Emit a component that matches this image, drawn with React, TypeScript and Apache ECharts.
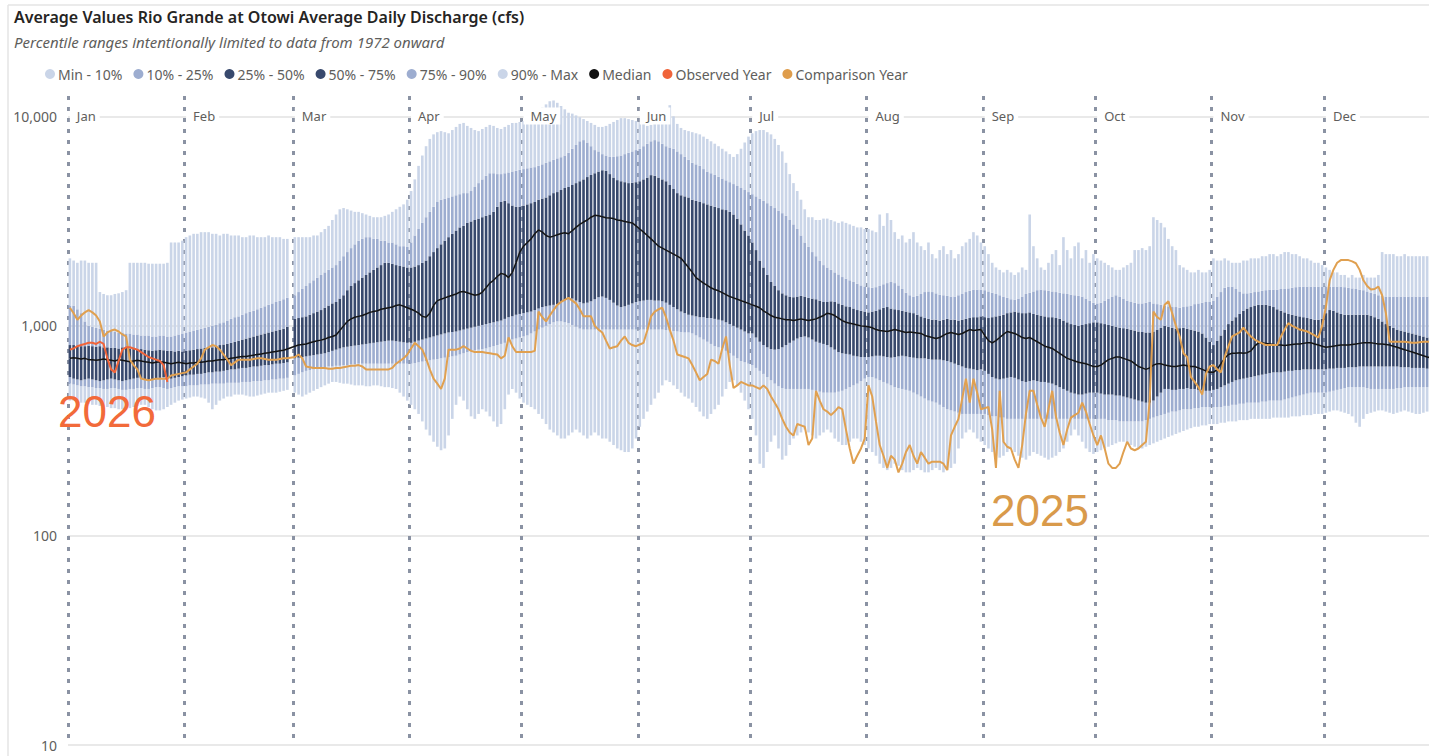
import React, { useEffect, useRef } from 'react';
import * as echarts from 'echarts';

// ---------- categories ----------
const MONTHS = ['Jan', 'Feb', 'Mar', 'Apr', 'May', 'Jun', 'Jul', 'Aug', 'Sep', 'Oct', 'Nov', 'Dec'];
const MONTH_DAYS = [31, 29, 31, 30, 31, 30, 31, 31, 30, 31, 30, 31];
const Y_TICKS = [10, 100, 1000, 10000];

// ---------- daily percentile values (cfs), Jan 1 .. Dec 31 ----------
const MIN_Q = [
  440,440,435,430,430,425,420,420,415,410,410,405,405,400,400,400,405,410,415,420,420,410,400,395,395,400,410,420,430,440,445,
  450,455,460,460,455,450,430,400,420,440,450,460,460,470,470,470,465,460,460,465,470,475,480,480,480,485,490,495,null,
  480,470,460,470,480,490,500,510,520,530,540,540,535,530,530,525,520,520,520,515,515,520,520,515,510,510,505,500,480,460,440,
  420,400,380,350,320,300,280,265,255,260,300,360,420,460,440,400,370,360,380,400,390,370,350,330,340,400,470,500,480,450,
  430,420,410,400,380,360,340,320,310,300,290,290,300,310,320,310,300,290,300,310,300,290,290,280,270,260,255,250,250,260,290,
  330,360,390,420,450,480,520,550,540,520,500,480,460,450,430,410,390,370,360,380,400,420,460,500,540,550,520,480,440,400,
  360,300,220,210,250,280,300,260,230,240,270,290,300,310,320,310,300,290,300,310,320,310,290,280,270,270,280,290,290,280,270,
  260,250,240,220,210,205,210,220,215,205,200,200,205,210,205,200,200,205,210,205,200,205,210,220,260,290,310,320,310,290,280,
  270,260,250,240,235,240,250,260,250,240,235,230,240,250,245,240,235,230,235,240,250,260,280,300,320,300,280,260,250,245,
  250,255,260,265,270,275,280,280,275,270,265,260,260,265,270,275,280,285,290,295,300,305,310,315,320,325,330,330,335,335,340,
  340,340,345,345,350,350,350,355,355,355,360,360,360,360,360,360,365,365,365,365,365,370,370,370,375,375,375,380,380,380,
  385,390,395,395,390,385,380,370,345,330,360,380,385,390,395,395,390,385,380,385,390,395,390,385,380,380,385,390,390,385,380,
];

const P10 = [
  530,525,520,515,515,510,510,505,505,500,500,505,505,500,495,495,500,500,505,505,500,500,505,510,510,505,500,505,510,515,515,
  515,520,520,520,525,525,525,530,530,530,530,535,535,535,535,540,540,540,545,545,545,550,550,555,555,560,560,565,null,
  580,590,600,610,615,620,625,630,635,640,640,645,645,650,650,655,655,660,660,660,660,660,660,660,660,660,660,660,660,660,660,
  660,665,670,675,680,685,690,695,700,705,710,715,720,730,740,750,760,765,770,775,780,790,800,810,820,830,845,860,870,880,
  890,900,920,940,960,980,1000,1020,1040,1050,1050,1040,1030,1010,990,970,960,960,960,960,960,960,960,960,960,960,960,960,960,960,960,
  960,960,960,960,960,960,960,955,950,945,940,935,930,930,920,900,880,860,840,820,800,790,780,760,740,720,700,680,670,660,
  650,630,610,590,570,550,530,515,505,500,500,500,500,500,500,500,495,490,485,480,480,480,480,485,490,500,510,520,530,545,560,
  570,570,560,550,540,530,520,510,505,500,495,490,480,470,460,450,440,435,430,420,410,400,395,390,385,380,380,380,380,380,380,
  380,375,370,370,365,365,360,360,360,360,360,360,360,360,360,360,360,360,360,360,360,360,360,360,360,360,360,360,360,360,
  360,360,360,355,355,355,350,350,350,350,350,350,350,355,360,365,370,375,380,385,390,390,395,400,400,400,405,405,410,410,410,
  410,410,410,415,415,420,420,425,425,430,430,430,430,435,435,440,440,440,440,445,450,455,460,465,470,475,480,480,480,480,
  480,485,490,495,500,505,510,510,510,510,510,505,500,500,500,500,500,500,500,505,505,510,510,510,510,510,510,510,510,510,510,
];

const P25 = [
  570,560,555,550,555,560,555,550,545,550,555,560,555,550,545,550,555,560,565,560,555,550,555,560,565,570,565,560,565,570,575,
  580,585,585,590,590,595,600,600,605,605,610,615,620,620,625,630,630,635,640,640,645,650,650,655,660,660,665,670,null,
  700,705,710,715,720,725,730,735,740,750,760,770,780,790,795,800,805,810,815,820,825,830,835,840,845,850,850,845,840,835,830,
  830,840,850,860,870,880,890,900,910,920,930,935,940,950,960,970,980,990,1000,1010,1020,1030,1040,1050,1060,1080,1100,1110,1130,1140,
  1150,1160,1170,1190,1210,1230,1240,1250,1260,1270,1300,1330,1360,1350,1320,1300,1280,1290,1310,1340,1370,1380,1360,1330,1290,1250,1230,1240,1260,1280,1300,
  1310,1320,1330,1330,1320,1320,1310,1290,1260,1230,1200,1170,1150,1130,1120,1110,1100,1100,1090,1090,1080,1070,1060,1040,1020,1000,980,960,940,920,
  920,880,840,810,790,775,770,775,790,810,830,850,870,885,890,880,860,840,830,820,810,790,770,750,740,735,730,720,715,710,710,
  710,715,720,720,715,710,705,710,715,720,715,710,705,700,700,700,695,690,690,690,685,680,670,660,650,640,630,625,620,615,620,
  610,590,570,560,555,560,565,570,565,555,545,540,545,550,545,540,540,535,530,520,510,500,490,480,475,470,470,475,480,480,
  480,475,470,470,470,465,465,460,455,450,445,440,435,430,430,440,460,480,500,500,495,495,500,500,505,500,500,495,495,490,490,
  495,500,510,520,530,540,550,555,560,565,570,575,580,585,590,595,600,600,600,605,610,610,615,615,620,620,620,620,620,620,
  620,625,625,630,630,630,635,635,635,640,640,640,640,640,640,640,640,640,640,640,635,635,635,630,630,630,630,625,625,620,620,
];

const MEDIAN = [
  700,705,700,695,700,690,690,685,690,695,690,685,680,690,685,680,675,680,685,680,675,670,665,670,675,670,665,660,665,670,665,
  660,665,665,670,670,675,680,680,685,690,690,695,700,705,710,715,715,720,725,730,735,740,745,750,755,760,765,775,null,
  800,810,815,820,830,840,850,855,865,880,890,905,950,1000,1050,1080,1100,1110,1120,1140,1160,1170,1180,1200,1210,1220,1230,1250,1260,1240,1220,
  1200,1180,1150,1110,1100,1150,1250,1320,1340,1360,1380,1400,1420,1450,1460,1440,1420,1400,1410,1450,1520,1600,1650,1720,1780,1760,1700,1800,2000,2250,
  2400,2500,2600,2750,2870,2800,2700,2650,2680,2720,2760,2780,2750,2850,2950,3050,3130,3200,3300,3370,3350,3320,3280,3270,3250,3200,3180,3150,3120,3100,3000,
  2900,2800,2700,2600,2500,2400,2350,2300,2250,2200,2150,2100,2000,1900,1800,1700,1650,1600,1560,1520,1490,1470,1440,1410,1380,1360,1340,1320,1300,1280,
  1260,1240,1220,1180,1150,1120,1100,1090,1080,1070,1070,1060,1070,1080,1070,1060,1070,1080,1100,1120,1150,1140,1120,1090,1060,1040,1030,1020,1010,1000,995,
  990,980,960,950,945,940,950,960,950,940,930,935,930,925,920,900,890,880,870,880,900,920,930,920,910,920,940,960,950,955,960,
  900,850,830,850,880,910,940,930,920,900,880,870,880,860,840,820,800,790,780,760,740,720,700,690,680,670,665,660,650,640,
  640,650,670,690,700,710,710,700,690,680,660,640,630,620,630,650,660,660,650,645,640,640,645,650,645,640,640,630,620,610,600,
  600,620,660,700,730,740,740,745,740,745,760,800,830,830,825,820,815,810,810,805,810,815,820,820,825,830,830,820,810,800,
  790,795,800,805,810,810,810,815,820,825,830,830,830,825,820,820,815,810,800,790,780,770,760,750,740,730,720,710,705,700,700,
];

const P75 = [
  810,810,800,800,800,805,800,795,800,790,790,785,785,780,790,785,780,775,770,775,770,765,760,765,770,765,760,760,755,760,755,
  760,765,770,775,780,785,790,790,800,810,815,820,830,840,850,860,870,880,890,900,910,920,930,940,950,960,970,990,null,
  1080,1090,1100,1110,1130,1150,1170,1190,1220,1250,1280,1300,1350,1400,1480,1550,1600,1650,1700,1750,1800,1850,1900,1950,2000,2000,1980,1950,1930,1920,1900,
  1900,1920,1950,2000,2050,2150,2250,2350,2450,2550,2650,2750,2850,2950,3000,3100,3150,3200,3250,3300,3350,3400,3500,3700,3900,3950,3850,3750,3700,3700,
  3750,3800,3850,3900,4000,4050,4100,4200,4300,4350,4450,4550,4600,4700,4800,4900,5000,5130,5250,5350,5450,5530,5500,5300,5100,4960,4900,4850,4800,4820,4850,
  4900,5000,5100,5240,5200,5100,5000,4900,4700,4500,4300,4200,4150,4100,4000,3950,3900,3850,3800,3750,3700,3650,3600,3570,3500,3400,3250,3050,2850,2700,
  2500,2300,2050,1900,1750,1620,1550,1480,1430,1400,1380,1370,1380,1390,1380,1360,1350,1340,1320,1300,1300,1310,1300,1280,1260,1240,1230,1210,1190,1180,1170,
  1160,1170,1180,1200,1220,1230,1210,1200,1190,1180,1170,1160,1150,1130,1110,1090,1080,1070,1070,1060,1070,1080,1070,1070,1060,1070,1080,1090,1100,1100,1110,
  1100,1090,1100,1110,1120,1130,1150,1160,1170,1160,1150,1150,1160,1140,1130,1120,1110,1100,1100,1090,1080,1060,1040,1020,1010,1000,1010,1020,1030,1040,
  1040,1030,1020,1010,1000,990,980,975,970,960,950,940,935,930,930,940,960,980,1000,990,980,970,975,980,970,960,950,940,920,880,840,
  810,850,900,960,1020,1060,1100,1140,1180,1210,1230,1250,1260,1260,1260,1250,1230,1200,1180,1160,1140,1130,1120,1110,1100,1090,1080,1070,1070,1080,
  1150,1190,1180,1160,1140,1130,1130,1130,1130,1130,1130,1130,1120,1100,1080,1050,1020,1000,980,960,950,940,930,920,910,900,890,880,880,870,870,
];

const P90 = [
  1250,1250,1200,1150,1050,1000,990,980,970,960,950,950,940,930,930,920,920,910,910,900,900,900,890,890,900,900,890,890,900,910,920,
  930,940,950,960,970,980,990,1000,1010,1030,1040,1060,1080,1100,1110,1130,1150,1170,1180,1200,1220,1240,1260,1280,1300,1320,1340,1360,null,
  1400,1450,1500,1550,1600,1650,1700,1750,1800,1850,1900,1950,2050,2150,2250,2350,2450,2550,2600,2650,2650,2600,2600,2550,2550,2500,2500,2450,2400,2400,2380,
  2500,2700,2900,3100,3300,3500,3700,3900,4000,4050,4100,4150,4200,4250,4300,4300,4400,4600,4800,5000,5200,5350,5350,5300,5300,5350,5400,5450,5500,5550,
  5600,5650,5700,5720,5800,5900,6000,6100,6200,6300,6380,6500,6700,7000,7300,7600,7700,7500,7200,6900,6800,6600,6500,6400,6400,6450,6500,6600,6700,6800,6900,
  7000,7200,7400,7600,7700,7600,7400,7200,7100,7000,6800,6600,6400,6200,6000,5900,5800,5600,5450,5350,5250,5150,5050,4950,4850,4750,4650,4550,4450,4350,
  4250,4150,4050,3950,3850,3750,3650,3550,3450,3350,3200,3050,2900,2700,2500,2380,2250,2150,2050,1950,1900,1850,1800,1760,1710,1680,1650,1620,1590,1560,1540,
  1530,1520,1530,1550,1580,1600,1620,1600,1560,1500,1440,1400,1380,1390,1420,1450,1460,1450,1430,1410,1400,1390,1380,1380,1400,1420,1450,1470,1490,1490,1490,
  1480,1460,1440,1420,1400,1380,1360,1340,1330,1350,1380,1420,1440,1460,1480,1490,1480,1470,1460,1450,1440,1430,1420,1410,1400,1390,1380,1350,1320,1290,
  1280,1290,1320,1350,1380,1400,1380,1350,1320,1300,1290,1280,1280,1290,1300,1280,1270,1260,1250,1240,1230,1230,1220,1230,1240,1250,1270,1280,1290,1300,1300,
  1320,1380,1450,1520,1540,1540,1500,1460,1430,1430,1440,1450,1460,1470,1480,1490,1490,1490,1500,1500,1510,1520,1530,1540,1540,1540,1540,1540,1540,1540,
  1540,1540,1540,1540,1540,1530,1520,1510,1500,1490,1480,1460,1440,1420,1400,1390,1380,1380,1380,1380,1380,1380,1380,1380,1380,1380,1380,1380,1380,1380,1380,
];

const MAX_Q = [
  2100,2050,2000,2050,2050,2000,2000,2000,1450,1420,1400,1400,1420,1430,1450,1480,2000,2000,2000,2000,2000,1980,1980,1980,1980,1980,2000,2500,2500,2500,2550,
  2650,2700,2750,2750,2800,2800,2800,2750,2750,2700,2750,2750,2700,2700,2700,2650,2650,2700,2700,2650,2650,2650,2700,2650,2650,2650,2600,2600,null,
  2650,2650,2650,2650,2650,2700,2700,2800,2900,3000,3200,3400,3600,3650,3600,3550,3500,3500,3450,3400,3350,3300,3300,3300,3350,3400,3500,3600,3700,3800,4000,
  4400,5000,5800,6500,7200,7800,8200,8400,8500,8400,8300,8600,8900,9200,9300,9000,8800,8600,8500,8700,8900,9100,9000,8800,8700,8900,9100,9300,9300,9400,
  9500,9700,10000,10300,10600,11000,11400,11800,11900,11600,11200,10800,10400,10300,10100,9900,9700,9500,9300,9100,8900,8900,9000,9200,9400,9600,9800,9800,9700,9600,9500,
  9400,9200,9000,9100,9300,9500,9800,10500,11300,10000,9200,8800,8600,8500,8400,8300,8200,8000,7800,7600,7400,7200,7000,6800,6600,6400,6600,7000,7500,8000,
  8300,8500,8600,8600,8400,8200,7800,7300,6800,6000,5300,4800,4400,4000,3600,3300,3300,3200,3200,3250,3250,3200,3150,3100,3150,3100,3050,3000,2950,2950,2900,
  2900,2850,2800,3400,3000,3450,3200,2800,2600,2700,2500,2600,2800,2500,2400,2300,2500,2200,2100,2300,2400,2200,2300,2100,2200,2400,2500,2600,2800,2700,2500,
  2400,2200,2000,1900,1850,1800,1850,1800,1750,1800,1900,1850,3400,2400,2100,1900,1850,2000,2200,2300,1950,2650,2300,2100,2400,2500,2100,2300,2000,2200,
  2100,2050,2000,1950,1900,1850,1850,1900,1950,2000,2300,2300,2350,2300,2400,3300,3200,3100,2950,2600,2400,2300,1950,1900,1850,1800,1800,1850,1800,1800,1850,
  2100,2050,2050,2100,2050,2000,2000,2000,2050,2050,2100,2100,2100,2150,2150,2200,2200,2150,2200,2250,2250,2200,2200,2150,2100,2100,2050,2000,2000,1950,
  1900,1850,1800,1800,1750,1750,1700,1750,1700,1700,1750,1700,1700,1700,1750,2250,2200,2200,2200,2150,2150,2200,2150,2150,2150,2150,2150,2150,2150,2150,2150,
];

// ---------- comparison year 2025 (no Feb 29) ----------
const COMPARISON_2025 = [
  1220,1150,1070,1120,1160,1190,1160,1120,1050,890,930,950,960,940,910,890,690,650,620,560,555,550,555,560,560,560,560,580,585,590,595,
  600,620,640,660,700,770,790,810,800,770,730,690,650,670,690,690,690,690,695,700,700,695,690,690,690,695,700,700,null,
  710,730,700,640,635,630,630,630,630,625,625,630,630,635,640,645,645,650,640,620,620,620,620,620,620,620,630,660,680,700,730,
  780,830,800,770,700,620,560,530,500,560,770,770,770,780,800,780,760,750,750,750,745,740,735,730,700,720,880,800,750,750,
  750,750,750,760,1170,1100,1050,1120,1190,1260,1300,1330,1360,1320,1280,1200,1110,1110,1110,1000,960,930,850,780,790,800,850,890,830,810,800,
  815,830,950,1110,1170,1200,1220,1100,960,850,730,720,710,700,650,600,550,570,590,690,680,660,780,890,650,505,520,540,530,520,
  520,510,500,520,500,460,430,400,360,330,310,300,340,335,330,270,290,490,440,400,390,375,390,410,400,320,260,220,240,260,290,
  520,460,350,270,240,210,240,230,200,220,250,270,240,220,250,235,220,225,225,225,220,205,300,330,360,450,560,430,560,480,400,
  405,410,320,210,490,280,265,260,230,210,270,380,490,490,420,365,330,400,490,370,310,270,320,365,375,385,430,390,340,300,
  270,300,260,220,210,210,220,250,280,260,255,260,270,280,440,1170,1100,1070,1260,1310,1150,1000,890,740,710,570,540,510,470,590,640,
  650,620,600,710,800,890,910,930,980,930,890,860,840,825,810,810,810,810,890,960,1030,1000,980,960,950,940,920,900,880,1000,
  1230,1650,1850,2000,2060,2060,2060,2030,1990,1850,1650,1550,1490,1500,1540,1400,1150,840,840,840,840,840,835,830,830,835,840,840,840,845,850,
];

// ---------- observed year 2026 (to date) ----------
const OBSERVED_2026 = [
  770,780,800,810,820,830,830,820,840,820,700,620,600,680,770,790,790,780,770,750,730,710,700,690,680,650,540,
];

const LEGEND_NAMES = ['Min - 10%', '10% - 25%', '25% - 50%', '50% - 75%', '75% - 90%', '90% - Max', 'Median', 'Observed Year', 'Comparison Year'];

const LIGHT = '#cad5e8';
const MID = '#9dadd0';
const DARK = '#38496d';
const FONT = '"Noto Sans", "Open Sans", sans-serif';
const LAST_VISIBLE_DAY = 362; // the visual is cut at the right edge (Dec 28)

function buildDays() {
  const labels: string[] = [];
  const starts: number[] = [];
  MONTH_DAYS.forEach((n, m) => {
    starts.push(labels.length);
    for (let d = 1; d <= n; d++) labels.push(`${MONTHS[m]} ${d}`);
  });
  return { labels, starts };
}

const diff = (hi: (number | null)[], lo: (number | null)[]) =>
  hi.map((v, i) => (v == null || lo[i] == null ? null : (v as number) - (lo[i] as number)));

export default function App() {
  const ref = useRef<HTMLDivElement>(null);

  useEffect(() => {
    if (!ref.current) return;
    const chart = echarts.init(ref.current, null, { renderer: 'svg' });
    const { labels, starts } = buildDays();
    const startSet = new Set(starts);
    const monthOf = (i: number) => MONTHS[starts.indexOf(i)];

    const barCommon = {
      type: 'bar',
      stack: 'pct',
      xAxisIndex: 0,
      barCategoryGap: '30%',
      silent: true,
      emphasis: { disabled: true },
    };

    const option: any = {
      animation: false,
      backgroundColor: '#ffffff',
      title: [
        {
          text: 'Average Values Rio Grande at Otowi Average Daily Discharge (cfs)',
          left: 9,
          top: 4,
          textStyle: { fontFamily: FONT, fontSize: 16, fontWeight: 600, color: '#252423' },
        },
        {
          text: 'Percentile ranges intentionally limited to data from 1972 onward',
          left: 9,
          top: 29,
          textStyle: { fontFamily: FONT, fontSize: 15, fontStyle: 'italic', fontWeight: 'normal', color: '#605e5c' },
        },
      ],
      legend: {
        data: LEGEND_NAMES,
        left: 40,
        top: 62,
        icon: 'circle',
        itemWidth: 10,
        itemHeight: 10,
        itemGap: 11,
        selectedMode: false,
        textStyle: { fontFamily: FONT, fontSize: 14, color: '#605e5c', padding: [0, 0, 0, -2] },
      },
      grid: { left: 68, top: 96, right: 0, height: 649, containLabel: false },
      xAxis: [
        {
          type: 'category',
          data: labels,
          max: LAST_VISIBLE_DAY,
          boundaryGap: true,
          axisLine: { show: false },
          axisTick: { show: false },
          axisLabel: { show: false },
          splitLine: {
            show: true,
            showMinLine: true,
            showMaxLine: false,
            interval: (i: number) => startSet.has(i),
            lineStyle: { color: '#8a92a3', width: 3, type: [4, 7] },
          },
        },
        {
          type: 'category',
          data: labels,
          max: LAST_VISIBLE_DAY,
          boundaryGap: true,
          position: 'top',
          offset: -20,
          z: 10,
          axisLine: { show: false },
          axisTick: { show: false },
          splitLine: { show: false },
          axisLabel: {
            show: true,
            interval: (i: number) => startSet.has(i),
            formatter: (_v: string, i: number) => monthOf(i),
            align: 'left',
            verticalAlign: 'middle',
            margin: 0,
            padding: [2, 4, 2, 7],
            backgroundColor: '#ffffff',
            color: '#605e5c',
            fontFamily: FONT,
            fontSize: 13,
          },
        },
      ],
      yAxis: {
        type: 'log',
        logBase: 10,
        min: Y_TICKS[0],
        max: 12500,
        axisLine: { show: false },
        axisTick: { show: false },
        axisLabel: {
          color: '#605e5c',
          fontFamily: FONT,
          fontSize: 14,
          margin: 11,
          showMaxLabel: false,
          formatter: (v: number) => (Y_TICKS.includes(Math.round(v)) ? Math.round(v).toLocaleString('en-US') : ''),
        },
        splitLine: { show: true, showMaxLine: false, lineStyle: { color: '#e2e2e2', width: 1.5 } },
      },
      graphic: [
        { type: 'line', shape: { x1: 8, y1: 5, x2: 8, y2: 756 }, style: { stroke: '#e4e4e4', lineWidth: 1.5 }, silent: true },
        { type: 'line', shape: { x1: 8, y1: 5, x2: 1429, y2: 5 }, style: { stroke: '#e4e4e4', lineWidth: 1.5 }, silent: true },
        {
          type: 'text', x: 58, y: 411, z: 100, silent: true,
          style: { text: '2026', fontSize: 44, fontFamily: '"Liberation Sans", Arial, sans-serif', fill: '#f26a3a', verticalAlign: 'middle' },
        },
        {
          type: 'text', x: 991, y: 510, z: 100, silent: true,
          style: { text: '2025', fontSize: 44, fontFamily: '"Liberation Sans", Arial, sans-serif', fill: '#d99a4b', verticalAlign: 'middle' },
        },
      ],
      series: [
        { ...barCommon, name: '__base', data: MIN_Q, itemStyle: { color: 'rgba(0,0,0,0)' } },
        { ...barCommon, name: 'Min - 10%', data: diff(P10, MIN_Q), itemStyle: { color: LIGHT } },
        { ...barCommon, name: '10% - 25%', data: diff(P25, P10), itemStyle: { color: MID } },
        { ...barCommon, name: '25% - 50%', data: diff(MEDIAN, P25), itemStyle: { color: DARK } },
        { ...barCommon, name: '50% - 75%', data: diff(P75, MEDIAN), itemStyle: { color: DARK } },
        { ...barCommon, name: '75% - 90%', data: diff(P90, P75), itemStyle: { color: MID } },
        { ...barCommon, name: '90% - Max', data: diff(MAX_Q, P90), itemStyle: { color: LIGHT } },
        {
          type: 'line', name: 'Median', data: MEDIAN, symbol: 'none', connectNulls: true, z: 5, silent: true,
          lineStyle: { color: '#151515', width: 1.5 }, itemStyle: { color: '#111111' },
        },
        {
          type: 'line', name: 'Comparison Year', data: COMPARISON_2025, symbol: 'none', connectNulls: true, z: 6, silent: true,
          lineStyle: { color: '#e0a050', width: 2 }, itemStyle: { color: '#df9d4c' },
        },
        {
          type: 'line', name: 'Observed Year', data: OBSERVED_2026, symbol: 'none', z: 7, silent: true,
          lineStyle: { color: '#f0643a', width: 2 }, itemStyle: { color: '#f0643a' },
        },
      ],
    };

    chart.setOption(option);
    return () => chart.dispose();
  }, []);

  return <div ref={ref} style={{ position: 'fixed', left: 0, top: 0, width: 1429, height: 756 }} />;
}
